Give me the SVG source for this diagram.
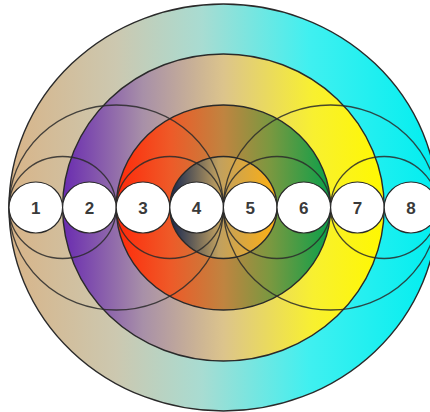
<svg xmlns="http://www.w3.org/2000/svg" width="430" height="412" viewBox="0 0 430 412">
<defs>
<linearGradient id="gOuter" x1="9" y1="0" x2="438" y2="0" gradientUnits="userSpaceOnUse">
<stop offset="0" stop-color="#d8b488"/>
<stop offset="0.25" stop-color="#ccc8b0"/>
<stop offset="0.45" stop-color="#a8dcd2"/>
<stop offset="0.7" stop-color="#40f0f0"/>
<stop offset="1" stop-color="#00eef0"/>
</linearGradient>
<linearGradient id="gYellow" x1="63" y1="0" x2="384" y2="0" gradientUnits="userSpaceOnUse">
<stop offset="0" stop-color="#6a2cb0"/>
<stop offset="0.25" stop-color="#a890a8"/>
<stop offset="0.5" stop-color="#dcc48c"/>
<stop offset="0.78" stop-color="#f8f030"/>
<stop offset="1" stop-color="#fff800"/>
</linearGradient>
<linearGradient id="gRed" x1="117" y1="0" x2="330" y2="0" gradientUnits="userSpaceOnUse">
<stop offset="0" stop-color="#ff2a0a"/>
<stop offset="0.25" stop-color="#ee5a28"/>
<stop offset="0.5" stop-color="#c08440"/>
<stop offset="0.72" stop-color="#7a9840"/>
<stop offset="1" stop-color="#0aa04a"/>
</linearGradient>
<linearGradient id="gInner" x1="171" y1="0" x2="277" y2="0" gradientUnits="userSpaceOnUse">
<stop offset="0" stop-color="#182850"/>
<stop offset="0.45" stop-color="#c0a060"/>
<stop offset="1" stop-color="#ffb010"/>
</linearGradient>
</defs>
<style>
.ring{stroke:#2a2a2a;stroke-width:1.4}
.arc{fill:none;stroke:#2a2a2a;stroke-width:1.3;stroke-opacity:0.85}
.dot{fill:#ffffff;stroke:#2a2a2a;stroke-width:1.2}
.num{font-family:"Liberation Sans",Arial,sans-serif;font-size:17px;font-weight:bold;fill:#3a3a3a;text-anchor:middle}
</style>
<g id="ring-1-8"><ellipse class="ring" cx="223.4" cy="207.5" rx="214.4" ry="203.5" fill="url(#gOuter)"/></g>
<g id="ring-2-7"><ellipse class="ring" cx="223.4" cy="207.5" rx="160.8" ry="153.5" fill="url(#gYellow)"/></g>
<g id="ring-3-6"><ellipse class="ring" cx="223.4" cy="207.5" rx="107.2" ry="102.5" fill="url(#gRed)"/></g>
<g id="ring-4-5"><ellipse class="ring" cx="223.4" cy="207.5" rx="53.6" ry="51" fill="url(#gInner)"/></g>
<g id="connectors">
<ellipse class="arc" cx="116.2" cy="207.5" rx="107.2" ry="102.5"/>
<ellipse class="arc" cx="330.6" cy="207.5" rx="107.2" ry="102.5"/>
<ellipse class="arc" cx="62.6" cy="207.5" rx="53.6" ry="51"/>
<ellipse class="arc" cx="169.8" cy="207.5" rx="53.6" ry="51"/>
<ellipse class="arc" cx="277" cy="207.5" rx="53.6" ry="51"/>
<ellipse class="arc" cx="384.2" cy="207.5" rx="53.6" ry="51"/>
</g>
<g id="n1"><ellipse class="dot" cx="35.8" cy="207.5" rx="26.8" ry="25.5"/><text class="num" x="35.8" y="213.5">1</text></g>
<g id="n2"><ellipse class="dot" cx="89.4" cy="207.5" rx="26.8" ry="25.5"/><text class="num" x="89.4" y="213.5">2</text></g>
<g id="n3"><ellipse class="dot" cx="143" cy="207.5" rx="26.8" ry="25.5"/><text class="num" x="143" y="213.5">3</text></g>
<g id="n4"><ellipse class="dot" cx="196.6" cy="207.5" rx="26.8" ry="25.5"/><text class="num" x="196.6" y="213.5">4</text></g>
<g id="n5"><ellipse class="dot" cx="250.2" cy="207.5" rx="26.8" ry="25.5"/><text class="num" x="250.2" y="213.5">5</text></g>
<g id="n6"><ellipse class="dot" cx="303.8" cy="207.5" rx="26.8" ry="25.5"/><text class="num" x="303.8" y="213.5">6</text></g>
<g id="n7"><ellipse class="dot" cx="357.4" cy="207.5" rx="26.8" ry="25.5"/><text class="num" x="357.4" y="213.5">7</text></g>
<g id="n8"><ellipse class="dot" cx="411" cy="207.5" rx="26.8" ry="25.5"/><text class="num" x="411" y="213.5">8</text></g>
</svg>
